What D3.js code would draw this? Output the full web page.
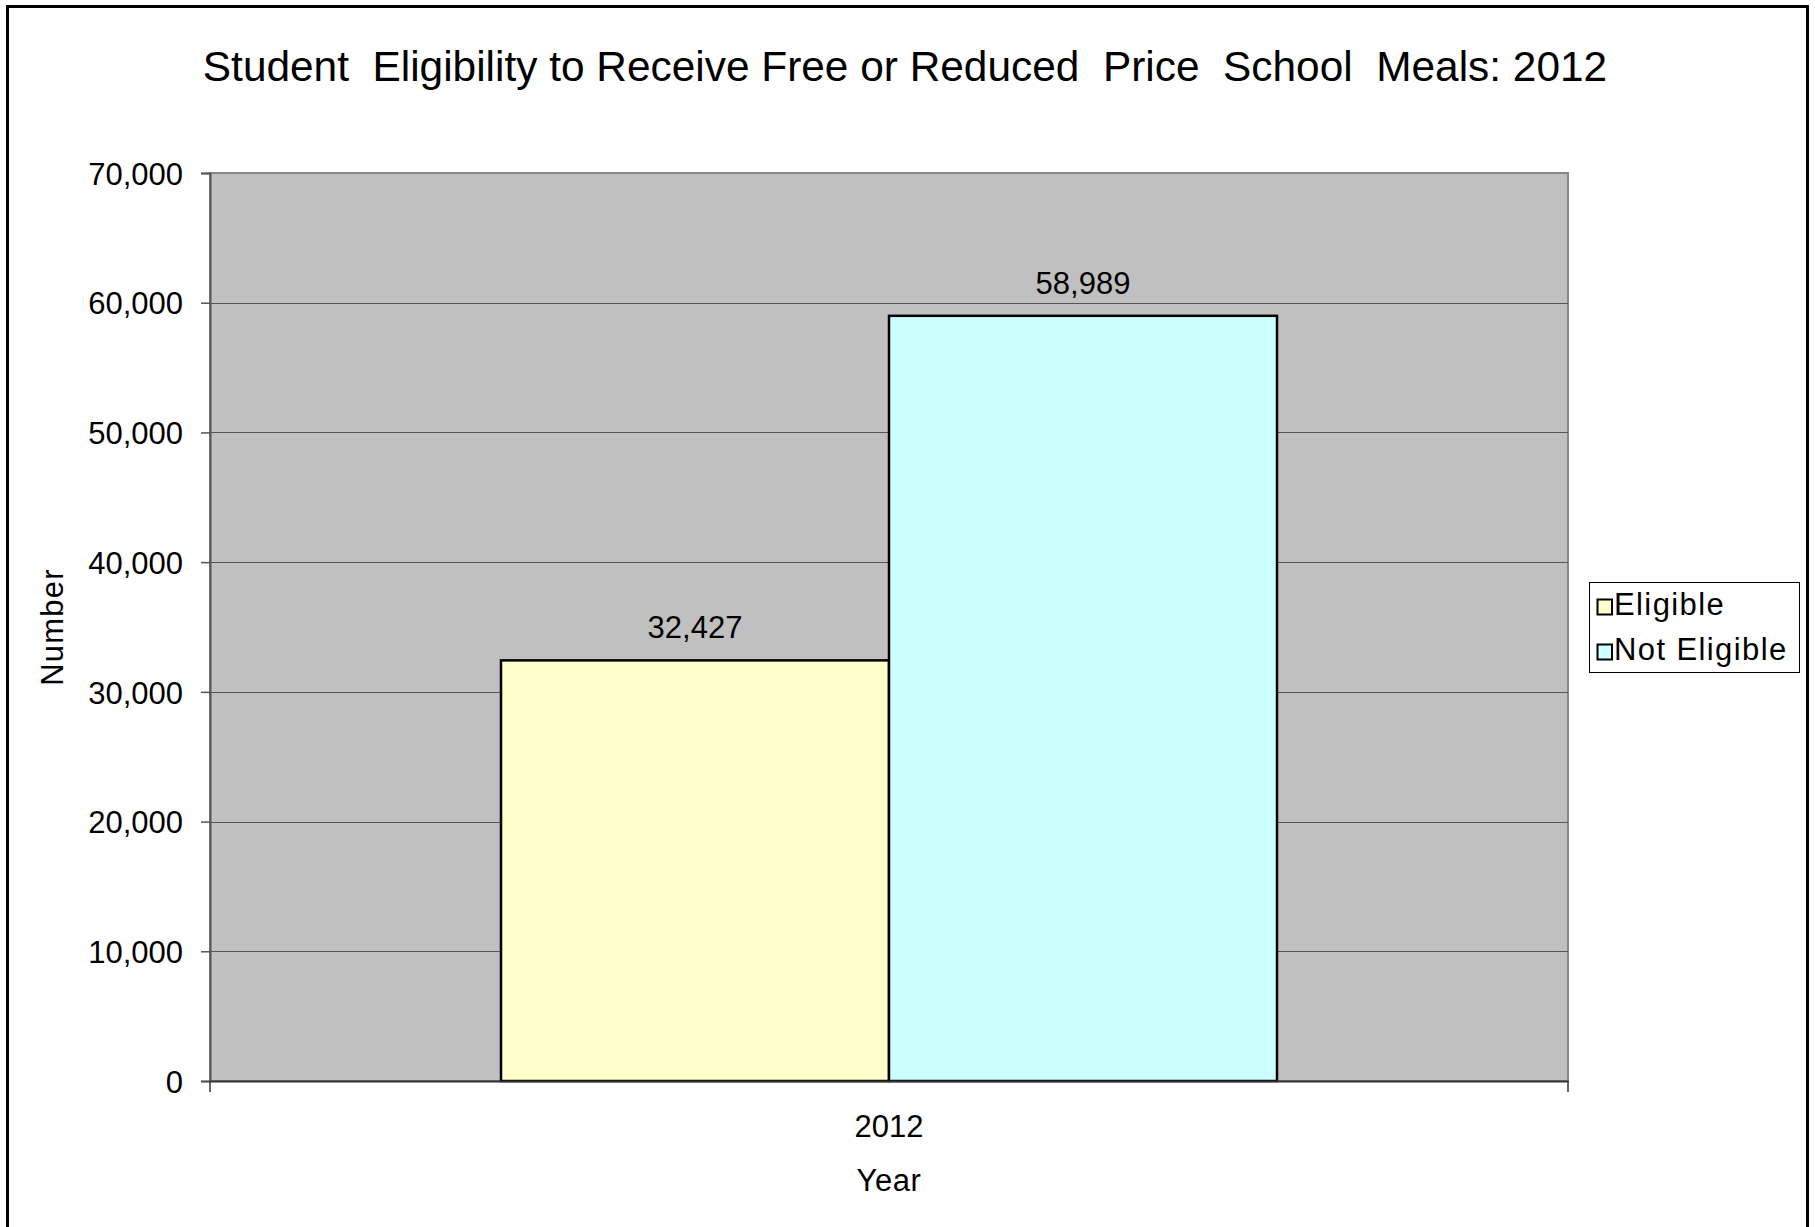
<!DOCTYPE html>
<html>
<head>
<meta charset="utf-8">
<script src="https://cdn.jsdelivr.net/npm/d3@7"></script>
<style>
  html, body { margin: 0; padding: 0; background: #ffffff; }
  svg { display: block; }
  text { font-family: "Liberation Sans", Arial, sans-serif; fill: #000; }
</style>
</head>
<body>
<svg id="chart" width="1815" height="1227"></svg>
<script>
// Chart data
const categories = ["2012"];
const seriesNames = ["Eligible", "Not Eligible"];
const seriesValues = [32427, 58989];
const seriesColors = ["#FFFFCC", "#CCFFFF"];
const yTicks = [0, 10000, 20000, 30000, 40000, 50000, 60000, 70000];
const titleText = "Student  Eligibility to Receive Free or Reduced  Price  School  Meals: 2012";

const svg = d3.select("#chart");
const plot = { left: 210, right: 1568, top: 173, bottom: 1081 };

// outer frame
svg.append("rect")
  .attr("x", 7.5).attr("y", 6.5)
  .attr("width", 1800).attr("height", 1240)
  .attr("fill", "#fff").attr("stroke", "#000").attr("stroke-width", 3);

const y = d3.scaleLinear().domain([0, 70000]).range([plot.bottom, plot.top]);
const x0 = d3.scaleBand().domain(categories)
  .range([plot.left, plot.right]).paddingInner(0).paddingOuter(0.375);
const x1 = d3.scaleBand().domain(seriesNames).range([0, x0.bandwidth()]);
const fmt = d3.format(",");

// plot background
svg.append("rect")
  .attr("x", plot.left).attr("y", plot.top)
  .attr("width", plot.right - plot.left).attr("height", plot.bottom - plot.top)
  .attr("fill", "#C0C0C0").attr("stroke", "#888").attr("stroke-width", 2);

// horizontal gridlines
svg.append("g").selectAll("line")
  .data(yTicks.filter(d => d > 0 && d < 70000))
  .join("line")
  .attr("x1", plot.left).attr("x2", plot.right)
  .attr("y1", d => Math.round(y(d)) + 0.5).attr("y2", d => Math.round(y(d)) + 0.5)
  .attr("stroke", "#555").attr("stroke-width", 1);

// bars
const group = svg.append("g").selectAll("g")
  .data(categories)
  .join("g")
  .attr("transform", d => `translate(${x0(d)},0)`);

group.selectAll("rect")
  .data(seriesNames.map((s, i) => ({ s, v: seriesValues[i], c: seriesColors[i] })))
  .join("rect")
  .attr("x", d => x1(d.s))
  .attr("y", d => y(d.v))
  .attr("width", x1.bandwidth())
  .attr("height", d => y(0) - y(d.v))
  .attr("fill", d => d.c)
  .attr("stroke", "#000").attr("stroke-width", 2.5);

group.selectAll("text")
  .data(seriesNames.map((s, i) => ({ s, v: seriesValues[i] })))
  .join("text")
  .attr("x", d => x1(d.s) + x1.bandwidth() / 2)
  .attr("y", d => y(d.v) - 22)
  .attr("text-anchor", "middle")
  .style("font-size", "31px")
  .text(d => fmt(d.v));

// y axis
const yAxis = svg.append("g")
  .attr("transform", `translate(${plot.left},0)`)
  .call(d3.axisLeft(y).tickValues(yTicks).tickFormat(fmt).tickSize(9).tickPadding(18));
yAxis.select(".domain").attr("stroke", "#555").attr("stroke-width", 2);
yAxis.selectAll(".tick line").attr("stroke", "#555").attr("stroke-width", 1.5);
yAxis.selectAll(".tick text")
  .style("font-size", "31px").style("font-family", "'Liberation Sans', Arial, sans-serif")
  .attr("fill", "#000").attr("dy", "0.36em");

// x axis
const xAxis = svg.append("g")
  .attr("transform", `translate(0,${plot.bottom})`)
  .call(d3.axisBottom(x0).tickSize(0).tickPadding(0));
xAxis.select(".domain").attr("stroke", "#333").attr("stroke-width", 2);
xAxis.selectAll(".tick text")
  .attr("y", 56).attr("dy", 0)
  .style("font-size", "31px").style("font-family", "'Liberation Sans', Arial, sans-serif")
  .attr("fill", "#000");
// boundary ticks at plot edges
svg.append("g").selectAll("line")
  .data([plot.left, plot.right])
  .join("line")
  .attr("x1", d => d).attr("x2", d => d)
  .attr("y1", plot.bottom).attr("y2", plot.bottom + 11)
  .attr("stroke", "#333").attr("stroke-width", 1.5);

// axis titles
svg.append("text")
  .attr("x", (plot.left + plot.right) / 2).attr("y", 1191)
  .attr("text-anchor", "middle")
  .style("font-size", "31px").style("letter-spacing", "0.6px")
  .text("Year");

svg.append("text")
  .attr("transform", `translate(63,${(plot.top + plot.bottom) / 2}) rotate(-90)`)
  .attr("text-anchor", "middle")
  .style("font-size", "31px").style("letter-spacing", "1.2px")
  .text("Number");

// title
svg.append("text")
  .attr("x", 905).attr("y", 81)
  .attr("text-anchor", "middle")
  .style("font-size", "42.4px")
  .style("white-space", "pre")
  .text(titleText);

// legend
const legend = svg.append("g");
legend.append("rect")
  .attr("x", 1589.5).attr("y", 582.5)
  .attr("width", 210).attr("height", 90)
  .attr("fill", "#fff").attr("stroke", "#000").attr("stroke-width", 1);
const items = legend.selectAll("g.item")
  .data(seriesNames.map((s, i) => ({ s, c: seriesColors[i] })))
  .join("g")
  .attr("class", "item")
  .attr("transform", (d, i) => `translate(1597,${599 + i * 45})`);
items.append("rect")
  .attr("x", 0.5).attr("y", 0.5).attr("width", 14.5).attr("height", 15)
  .attr("fill", d => d.c).attr("stroke", "#000").attr("stroke-width", 2);
items.append("text")
  .attr("x", 17).attr("y", 16)
  .style("font-size", "31px").style("letter-spacing", "1.4px")
  .text(d => d.s);
</script>
</body>
</html>
